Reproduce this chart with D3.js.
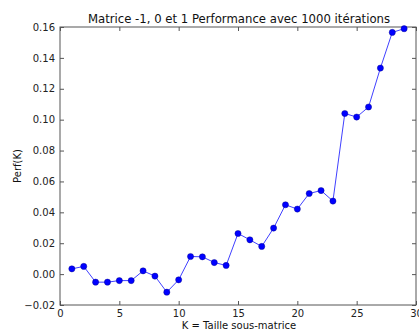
<!DOCTYPE html>
<html><head><meta charset="utf-8">
<script src="https://cdn.jsdelivr.net/npm/d3@7"></script>
<style>body{margin:0;background:#fff}svg{display:block}text{font-family:"DejaVu Sans",sans-serif}</style>
</head><body>
<script>
const kValues = [1,2,3,4,5,6,7,8,9,10,11,12,13,14,15,16,17,18,19,20,21,22,23,24,25,26,27,28,29];
const perfValues = [0.0034,0.0050,-0.0052,-0.0052,-0.0042,-0.0042,0.0021,-0.0013,-0.0117,-0.0037,
  0.0114,0.0112,0.0075,0.0056,0.0263,0.0222,0.0179,0.0298,0.0449,0.0421,0.0522,0.0541,0.0473,
  0.1040,0.1017,0.1082,0.1334,0.1565,0.1589];
const xTicks = [0,5,10,15,20,25,30];
const yTicks = [-0.02,0,0.02,0.04,0.06,0.08,0.10,0.12,0.14,0.16];
const title = "Matrice -1, 0 et 1 Performance avec 1000 itérations";
const xLabel = "K = Taille sous-matrice";
const yLabel = "Perf(K)";

const W = 419, H = 332;
const m = {left:60, right:416, top:27, bottom:305};
const svg = d3.select("body").append("svg").attr("width",W).attr("height",H);
const x = d3.scaleLinear().domain([0,30]).range([m.left,m.right]);
const y = d3.scaleLinear().domain([-0.02,0.16]).range([m.bottom,m.top]);
const axisCol = "#555";

svg.append("rect").attr("x",m.left).attr("y",m.top).attr("width",m.right-m.left).attr("height",m.bottom-m.top)
  .attr("fill","none").attr("stroke",axisCol).attr("stroke-width",1);

function styleAxis(g){g.select(".domain").remove();g.selectAll("line").attr("stroke",axisCol);g.selectAll("text").attr("fill","#222").style("font-size","10px");}
svg.append("g").attr("transform",`translate(0,${m.bottom})`)
  .call(d3.axisBottom(x).tickValues(xTicks).tickFormat(d3.format("d")).tickSizeInner(-4).tickPadding(5)).call(styleAxis);
svg.append("g").attr("transform",`translate(0,${m.top})`)
  .call(d3.axisTop(x).tickValues(xTicks).tickFormat("").tickSizeInner(-4)).call(styleAxis);
svg.append("g").attr("transform",`translate(${m.left},0)`)
  .call(d3.axisLeft(y).tickValues(yTicks).tickFormat(d=>d3.format(".2f")(d).replace("-","\u2212")).tickSizeInner(-4).tickPadding(5)).call(styleAxis);
svg.append("g").attr("transform",`translate(${m.right},0)`)
  .call(d3.axisRight(y).tickValues(yTicks).tickFormat("").tickSizeInner(-4)).call(styleAxis);

const data = kValues.map((k,i)=>({k, v:perfValues[i]}));
svg.append("path").datum(data).attr("fill","none").attr("stroke","#0000ff").attr("stroke-width",1).attr("stroke-opacity",0.75)
  .attr("d",d3.line().x(d=>x(d.k)).y(d=>y(d.v)));
svg.append("g").selectAll("circle").data(data).join("circle")
  .attr("cx",d=>x(d.k)).attr("cy",d=>y(d.v)).attr("r",3.1).attr("fill","#0000ff").attr("stroke","#000080").attr("stroke-width",0.4);

svg.append("text").attr("x",(m.left+m.right)/2+1).attr("y",23).attr("text-anchor","middle").style("font-size","11.7px").attr("fill","#111").text(title);
svg.append("text").attr("x",(m.left+m.right)/2+1).attr("y",329).attr("text-anchor","middle").style("font-size","10px").attr("fill","#111").text(xLabel);
svg.append("text").attr("transform",`translate(21,${(m.top+m.bottom)/2}) rotate(-90)`).attr("text-anchor","middle").style("font-size","10px").attr("fill","#111").text(yLabel);
</script>
</body></html>
